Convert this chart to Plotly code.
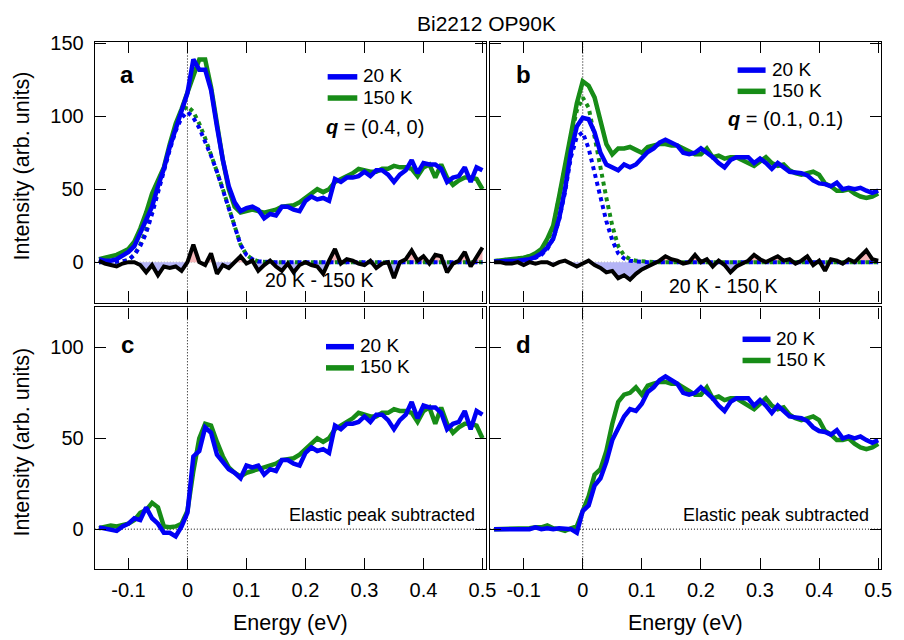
import plotly.graph_objects as go

W, H = 904, 640
FONT = "Liberation Sans, Arial, Helvetica, sans-serif"
BLUE = "#0000f5"
GREEN = "#178c17"
BLACK = "#000000"
PINK = "rgb(246,183,186)"
LAVENDER = "rgb(180,180,246)"

# ---------------- data ----------------
energy = [-0.15, -0.14, -0.13, -0.12, -0.11, -0.10, -0.09, -0.08, -0.07, -0.06,
          -0.05, -0.04, -0.03, -0.02, -0.01, 0.00, 0.01, 0.02, 0.03, 0.04,
          0.05, 0.06, 0.07, 0.08, 0.09, 0.10, 0.11, 0.12, 0.13, 0.14,
          0.15, 0.16, 0.17, 0.18, 0.19, 0.20, 0.21, 0.22, 0.23, 0.24,
          0.25, 0.26, 0.27, 0.28, 0.29, 0.30, 0.31, 0.32, 0.33, 0.34,
          0.35, 0.36, 0.37, 0.38, 0.39, 0.40, 0.41, 0.42, 0.43, 0.44,
          0.45, 0.46, 0.47, 0.48, 0.49, 0.50]

# panel a : q = (0.4, 0)
a_20K = [2, 1, 1, 2, 4.5, 7, 11, 20, 30, 38, 52, 64, 79, 92, 104,
         116, 139, 132, 132, 118, 93, 70, 52, 41, 35, 37, 38, 36,
         30, 33, 32, 38, 38, 36, 35, 42, 45, 43, 44, 42, 57, 55, 58, 58, 59, 62, 59, 63,
         63, 60, 55, 60, 63, 70, 61, 68, 67, 67, 64, 55, 58, 59, 65, 55, 65, 63]
a_150K = [2, 3, 4, 5, 7, 9, 14, 23, 34, 47, 56, 65, 81, 95, 105,
          117, 129, 139, 139, 120, 95, 70, 50, 38, 34, 35, 36, 35,
          34, 35, 36, 38, 38.5, 39, 41, 44, 47, 50, 48, 50, 55, 57, 59, 61, 64, 63, 62, 62,
          64, 64, 66, 65, 65, 64, 59, 65, 67, 58, 67, 58, 53, 56, 58, 58, 57, 50]
a_fit_20K = [0, 0, 0, 0, 0.5, 1.5, 5, 11, 20, 33, 48, 62, 77, 90, 99,
             103, 99, 92, 83, 73, 62, 50, 37, 24, 12, 5, 2, 0.5,
             0, 0, 0, 0, 0, 0, 0, 0, 0, 0, 0, 0, 0, 0, 0, 0, 0, 0, 0, 0,
             0, 0, 0, 0, 0, 0, 0, 0, 0, 0, 0, 0, 0, 0, 0, 0, 0, 0]
a_fit_150K = [0, 0, 0, 0, 0.5, 1.5, 5, 12, 22, 35, 50, 65, 80, 93, 103,
              107, 103, 95, 85, 74, 62, 50, 37, 24, 12, 5, 2, 0.5,
              0, 0, 0, 0, 0, 0, 0, 0, 0, 0, 0, 0, 0, 0, 0, 0, 0, 0, 0, 0,
              0, 0, 0, 0, 0, 0, 0, 0, 0, 0, 0, 0, 0, 0, 0, 0, 0, 0]
a_diff = [1, -1, -2, -3, -1, 0, 0, -2, -7, -2, -9, -3, -4, -3, -6,
          0, 12, 0, -2, 6, -8, -2, -4, 0, 4, -1, 1, -6, -2, 1,
          -3, -6, -1, -7, -2, 0, -2, -3, -8, 1, 9, -1, 2, 1, -1,
          -2, 1, -4, -1, 0, -11, 0, 2, 8, 1, 4, -1, 5, 4, -7,
          -1, 1, 7, -3, 3, 10]

# panel b : q = (0.1, 0.1)
b_20K = [0.5, 0.5, 0.5, 1, 1, 1.5, 2, 3.5, 6, 10, 16, 30, 50, 76, 93,
         99, 98, 89, 75, 67, 65, 63, 67, 65, 67, 71,
         75.5, 78, 82, 84, 82, 80, 75, 74, 75, 78, 75, 72, 68, 65, 70,
         72, 72, 72, 68, 71, 68, 64, 68, 65, 62, 61.5, 61, 59.5, 56, 54,
         53.5, 52, 54.5, 50, 51, 50, 51, 49, 47.5, 49]
b_150K = [0.7, 1, 1.5, 2, 2.5, 3, 4, 6, 9, 16, 25, 45, 67, 89, 109,
          124, 121, 113, 96, 81, 74, 78, 78, 79, 77, 75,
          79, 80, 81, 81, 80, 80, 78, 76, 74, 74, 78, 72, 73, 71, 72,
          72, 70, 68, 66, 69, 72, 68, 66, 67, 63, 61, 60, 61, 62, 60,
          54, 52, 49, 49, 50, 47, 45, 44, 45, 47]
b_fit_20K = [0.5, 0.5, 0.5, 1, 1, 1.5, 2, 3, 5, 9, 16, 29, 48, 72, 86,
             89, 78, 61, 45, 28, 15, 6, 2.5, 1, 0.5,
             0, 0, 0, 0, 0, 0, 0, 0, 0, 0, 0, 0, 0, 0, 0, 0, 0, 0, 0, 0, 0,
             0, 0, 0, 0, 0, 0, 0, 0, 0, 0, 0, 0, 0, 0, 0, 0, 0, 0, 0, 0]
b_fit_150K = [0.7, 1, 1.5, 2, 2.5, 3, 4, 5.5, 8, 14, 24, 43, 65, 86, 104,
              113, 106, 86, 64, 44, 25, 11, 4.5, 2, 1, 0.5,
              0, 0, 0, 0, 0, 0, 0, 0, 0, 0, 0, 0, 0, 0, 0, 0, 0, 0, 0, 0,
              0, 0, 0, 0, 0, 0, 0, 0, 0, 0, 0, 0, 0, 0, 0, 0, 0, 0, 0, 0]
b_diff = [0, 0, -1, -1, 0, -2, 0, -1, 0, 0, -2, 0, 1, -1, -3,
          -1, 1, -2, -4, -7, -6, -11, -9, -12, -8, -5, -3, -1, 1, 4,
          2, 1, -1, 0, 5, 0, 2, -3, 1, -2, -7, -3, -1, 1, 5,
          2, 0, 2, 4, 1, 2, -1, 1, 4, -2, 1, -6, 2, 1, -1,
          2, 0, 4, 8, 2, 1]

# panel c : q = (0.4, 0), elastic peak subtracted
c_20K = [1, 0.5, 0, -1, 1.5, 3, 6, 5, 12, 6, 3, -2, -2, -4, 1.5,
         9, 40, 43, 56, 53, 41, 37, 33, 31, 28, 35, 34, 35,
         30, 33, 32, 38, 38, 36, 35, 42, 45, 43, 44, 42, 57, 55, 58, 58, 59, 62, 59, 63,
         63, 60, 55, 60, 63, 70, 61, 68, 67, 67, 64, 55, 58, 59, 65, 55, 65, 63]
c_150K = [0.5, 1.5, 2, 1.5, 2.5, 3, 5, 9, 10.5, 14.5, 12, 1.5, 1, 1.5, 3,
          10, 32, 50, 58, 57, 48, 40, 34, 31, 29, 31, 32, 33,
          34, 35, 36, 38, 38.5, 39, 41, 44, 47, 50, 48, 50, 55, 57, 59, 61, 64, 63, 62, 62,
          64, 64, 66, 65, 65, 64, 59, 65, 67, 58, 67, 58, 53, 56, 58, 58, 57, 50]

# panel d : q = (0.1, 0.1), elastic peak subtracted
d_20K = [0, 0, 0, 0, 0, 0.5, 0, 1, 0, 0.5, 0, 0.5, 0, 0, -2,
         10, 13, 24, 28, 37, 49, 56, 62, 66, 65, 69,
         75.5, 78, 82, 84, 82, 80, 75, 74, 75, 78, 75, 72, 68, 65, 70,
         72, 72, 72, 68, 71, 68, 64, 68, 65, 62, 61.5, 61, 59.5, 56, 54,
         53.5, 52, 54.5, 50, 51, 50, 51, 49, 47.5, 49]
d_150K = [0, 0, 0, 0, 0, 0, 0.5, 1, 1, 2, 0.5, 0, -1, 0.5, 1.5,
          10, 18, 30, 33, 43, 58, 70, 74, 75, 78, 74,
          79, 80, 81, 81, 80, 80, 78, 76, 74, 74, 78, 72, 73, 71, 72,
          72, 70, 68, 66, 69, 72, 68, 66, 67, 63, 61, 60, 61, 62, 60,
          54, 52, 49, 49, 50, 47, 45, 44, 45, 47]

x_ticks = [-0.1, 0, 0.1, 0.2, 0.3, 0.4, 0.5]
x_ticklabels = ["-0.1", "0", "0.1", "0.2", "0.3", "0.4", "0.5"]
y_ticks_top = [0, 50, 100, 150]
y_ticks_bottom = [0, 50, 100]
series_names = ["20 K", "150 K"]
q_labels = ["(0.4, 0)", "(0.1, 0.1)"]

# ---------------- helpers ----------------
def px(x):
    return x / W


def py(y):
    return 1 - y / H


def split_fill(x, y):
    xs, pos, neg = [], [], []
    for i in range(len(x)):
        if i > 0 and y[i - 1] * y[i] < 0:
            t = y[i - 1] / (y[i - 1] - y[i])
            xs.append(x[i - 1] + t * (x[i] - x[i - 1]))
            pos.append(0)
            neg.append(0)
        xs.append(x[i])
        pos.append(max(y[i], 0))
        neg.append(min(y[i], 0))
    return xs, pos, neg


fig = go.Figure()


def line(xa, ya, y, color, width=4.5, dash=None, name=None):
    fig.add_trace(go.Scatter(
        x=energy, y=y, mode="lines", xaxis=xa, yaxis=ya, name=name,
        line=dict(color=color, width=width, dash=dash),
        showlegend=False, hoverinfo="skip"))


def diff_panel(xa, ya, d):
    xs, pos, neg = split_fill(energy, d)
    fig.add_trace(go.Scatter(x=xs, y=pos, mode="lines", xaxis=xa, yaxis=ya,
                             fill="tozeroy", fillcolor=PINK, line=dict(width=0),
                             showlegend=False, hoverinfo="skip"))
    fig.add_trace(go.Scatter(x=xs, y=neg, mode="lines", xaxis=xa, yaxis=ya,
                             fill="tozeroy", fillcolor=LAVENDER, line=dict(width=0),
                             showlegend=False, hoverinfo="skip"))


# panel a
diff_panel("x", "y", a_diff)
line("x", "y", a_fit_150K, GREEN, 4, "dot")
line("x", "y", a_fit_20K, BLUE, 4, "dot")
line("x", "y", a_150K, GREEN, name="150 K")
line("x", "y", a_20K, BLUE, name="20 K")
line("x", "y", a_diff, BLACK, 4, name="20 K - 150 K")

# panel b
diff_panel("x2", "y2", b_diff)
line("x2", "y2", b_fit_150K, GREEN, 4, "dot")
line("x2", "y2", b_fit_20K, BLUE, 4, "dot")
line("x2", "y2", b_150K, GREEN, name="150 K")
line("x2", "y2", b_20K, BLUE, name="20 K")
line("x2", "y2", b_diff, BLACK, 4, name="20 K - 150 K")

# panel c
line("x3", "y3", c_150K, GREEN, name="150 K")
line("x3", "y3", c_20K, BLUE, name="20 K")

# panel d
line("x4", "y4", d_150K, GREEN, name="150 K")
line("x4", "y4", d_20K, BLUE, name="20 K")

# ---------------- axes ----------------
XL = [px(96), px(492)]
XR = [px(496), px(892.3)]
YT = [py(297.7), py(33.3)]
YB = [py(568.3), py(302.7)]
XRANGE_L = [-0.157, 0.506]
XRANGE_R = [-0.157, 0.5055]
YRANGE_T = [-27.7, 151.1]
YRANGE_B = [-22.1, 122.0]

common = dict(showgrid=False, zeroline=False, showline=True, linecolor="black",
              linewidth=1.3, mirror="ticks", ticks="inside", ticklen=11,
              tickwidth=1.3, tickcolor="black",
              tickfont=dict(family=FONT, size=20, color="black"))


def xax(domain, anchor, rng, labels):
    d = dict(common)
    d.update(domain=domain, anchor=anchor, range=rng, tickmode="array",
             tickvals=x_ticks, ticktext=x_ticklabels, showticklabels=labels,
             ticklabelstandoff=3)
    return d


def yax(domain, anchor, rng, vals, labels):
    d = dict(common)
    d.update(domain=domain, anchor=anchor, range=rng, tickmode="array",
             tickvals=vals, ticktext=[str(v) for v in vals],
             showticklabels=labels, ticklabelstandoff=6)
    return d


layout = dict(
    width=W, height=H, autosize=False,
    margin=dict(l=0, r=0, t=0, b=0),
    paper_bgcolor="white", plot_bgcolor="white",
    font=dict(family=FONT, size=20, color="black"),
    showlegend=False,
    xaxis=xax(XL, "y", XRANGE_L, False),
    yaxis=yax(YT, "x", YRANGE_T, y_ticks_top, True),
    xaxis2=xax(XR, "y2", XRANGE_R, False),
    yaxis2=yax(YT, "x2", YRANGE_T, y_ticks_top, False),
    xaxis3=xax(XL, "y3", XRANGE_L, True),
    yaxis3=yax(YB, "x3", YRANGE_B, y_ticks_bottom, True),
    xaxis4=xax(XR, "y4", XRANGE_R, True),
    yaxis4=yax(YB, "x4", YRANGE_B, y_ticks_bottom, False),
)

shapes = []
for xa, ya in [("x", "y"), ("x2", "y2"), ("x3", "y3"), ("x4", "y4")]:
    shapes.append(dict(type="line", xref=xa, yref=ya + " domain", x0=0, x1=0,
                       y0=0, y1=1, layer="below",
                       line=dict(color="black", width=1, dash="1px,2px")))
for xa, ya, col in [("x", "y", "#9a9a9a"), ("x2", "y2", "#9a9a9a"),
                    ("x3", "y3", "black"), ("x4", "y4", "black")]:
    shapes.append(dict(type="line", xref=xa + " domain", yref=ya, x0=0, x1=1,
                       y0=0, y1=0, layer="below",
                       line=dict(color=col, width=1, dash="1px,2px")))

# legend keys (x0, x1, y_blue, y_green, text_x)
legend_keys = [(331.7, 361.7, 68.8, 90.3, 366),
               (746.7, 775, 62.0, 83.5, 781),
               (330, 358.3, 342.5, 364.0, 363),
               (751.7, 780, 335.0, 356.5, 785)]
annotations = []


def text(x, y, s, size=20, xanchor="center", yanchor="middle", angle=0):
    annotations.append(dict(x=px(x), y=py(y), xref="paper", yref="paper",
                            text=s, showarrow=False, xanchor=xanchor,
                            yanchor=yanchor, textangle=angle, borderpad=0,
                            font=dict(family=FONT, size=size, color="black")))


for x0, x1, yb, yg, tx in legend_keys:
    for yy, col, nm in [(yb, BLUE, series_names[0]), (yg, GREEN, series_names[1])]:
        shapes.append(dict(type="line", xref="paper", yref="paper",
                           x0=px(x0), x1=px(x1), y0=py(yy), y1=py(yy),
                           line=dict(color=col, width=5.5)))
        text(tx, yy - 1, nm, 19, "left")

layout["shapes"] = shapes

text(492, 14.8, "Bi2212 OP90K", 21)
text(128.5, 66.6, "<b>a</b>", 24)
text(529.5, 66.5, "<b>b</b>", 24)
text(129.5, 340, "<b>c</b>", 24)
text(529.5, 340.5, "<b>d</b>", 24)
text(329, 119.3, "<b><i>q</i></b> = " + q_labels[0], 20, "left")
text(735.5, 112, "<b><i>q</i></b> = " + q_labels[1], 20, "left")
text(323, 274.5, "20 K - 150 K", 19.5)
text(731.7, 280.7, "20 K - 150 K", 19.5)
text(482, 513.7, "Elastic peak subtracted", 18, "right")
text(880.5, 513.7, "Elastic peak subtracted", 18, "right")
text(294, 622.3, "Energy (eV)", 21.5)
text(694, 622.3, "Energy (eV)", 21.5)
text(22, 159, "Intensity (arb. units)", 21.5, angle=-90)
text(22, 439, "Intensity (arb. units)", 21.5, angle=-90)

layout["annotations"] = annotations
fig.update_layout(**layout)
fig.write_html("out.html")
